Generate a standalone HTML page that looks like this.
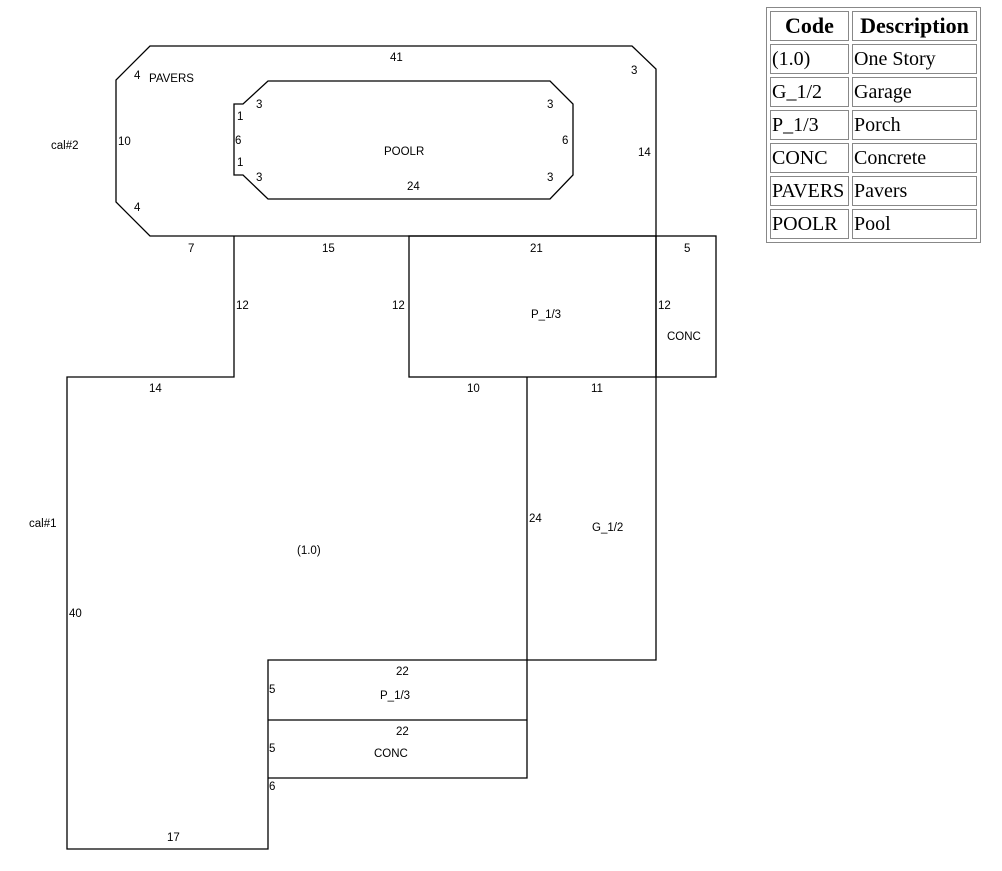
<!DOCTYPE html>
<html><head><meta charset="utf-8">
<style>
body{margin:0;background:#fff;width:1002px;height:871px;overflow:hidden;position:relative}
svg{position:absolute;left:0;top:0}
svg text{font-family:"Liberation Sans",sans-serif;font-size:11.5px;fill:#000}
table{position:absolute;left:766px;top:7px;border:1px solid #888;border-collapse:separate;border-spacing:3px;font-family:"Liberation Serif",serif;font-size:20px;table-layout:fixed;width:215px}
td,th{border:1px solid #888;padding:0 1px;height:28px;text-align:left;white-space:nowrap;overflow:hidden;line-height:28px}
th{text-align:center;font-weight:bold;font-size:22px}
col.a{width:79px}
</style></head><body>
<svg width="1002" height="871" viewBox="0 0 1002 871">
<g fill="none" stroke="#000" stroke-width="1.3">
<polygon points="150,46 632,46 656,69 656,236 150,236 116,202 116,80"/>
<polygon points="268,81 550,81 573,104 573,175 550,199 268,199 243,175 234,175 234,104 243,104"/>
<polyline points="234,236 234,377 67,377 67,849 268,849 268,660 656,660 656,236"/>
<rect x="409" y="236" width="307" height="141"/>
<line x1="656" y1="236" x2="656" y2="377"/>
<line x1="268" y1="720" x2="527" y2="720"/>
<polyline points="268,778 527,778 527,377"/>
</g>
<text x="390" y="61">41</text>
<text x="631" y="74">3</text>
<text x="134" y="79">4</text>
<text x="149" y="82">PAVERS</text>
<text x="118" y="145">10</text>
<text x="51" y="149">cal#2</text>
<text x="134" y="211">4</text>
<text x="638" y="156">14</text>
<text x="256" y="108">3</text>
<text x="237" y="120">1</text>
<text x="235" y="144">6</text>
<text x="237" y="166">1</text>
<text x="256" y="181">3</text>
<text x="547" y="108">3</text>
<text x="562" y="144">6</text>
<text x="547" y="181">3</text>
<text x="384" y="155">POOLR</text>
<text x="407" y="190">24</text>
<text x="188" y="252">7</text>
<text x="322" y="252">15</text>
<text x="530" y="252">21</text>
<text x="684" y="252">5</text>
<text x="236" y="309">12</text>
<text x="392" y="309">12</text>
<text x="658" y="309">12</text>
<text x="531" y="318">P_1/3</text>
<text x="667" y="340">CONC</text>
<text x="149" y="392">14</text>
<text x="467" y="392">10</text>
<text x="591" y="392">11</text>
<text x="29" y="527">cal#1</text>
<text x="529" y="522">24</text>
<text x="592" y="531">G_1/2</text>
<text x="297" y="554">(1.0)</text>
<text x="69" y="617">40</text>
<text x="396" y="675">22</text>
<text x="269" y="693">5</text>
<text x="380" y="699">P_1/3</text>
<text x="396" y="735">22</text>
<text x="269" y="752">5</text>
<text x="374" y="757">CONC</text>
<text x="269" y="790">6</text>
<text x="167" y="841">17</text>
</svg>
<table>
<colgroup><col class="a"><col></colgroup>
<tr><th>Code</th><th>Description</th></tr>
<tr><td>(1.0)</td><td>One Story</td></tr>
<tr><td>G_1/2</td><td>Garage</td></tr>
<tr><td>P_1/3</td><td>Porch</td></tr>
<tr><td>CONC</td><td>Concrete</td></tr>
<tr><td>PAVERS</td><td>Pavers</td></tr>
<tr><td>POOLR</td><td>Pool</td></tr>
</table>
</body></html>
